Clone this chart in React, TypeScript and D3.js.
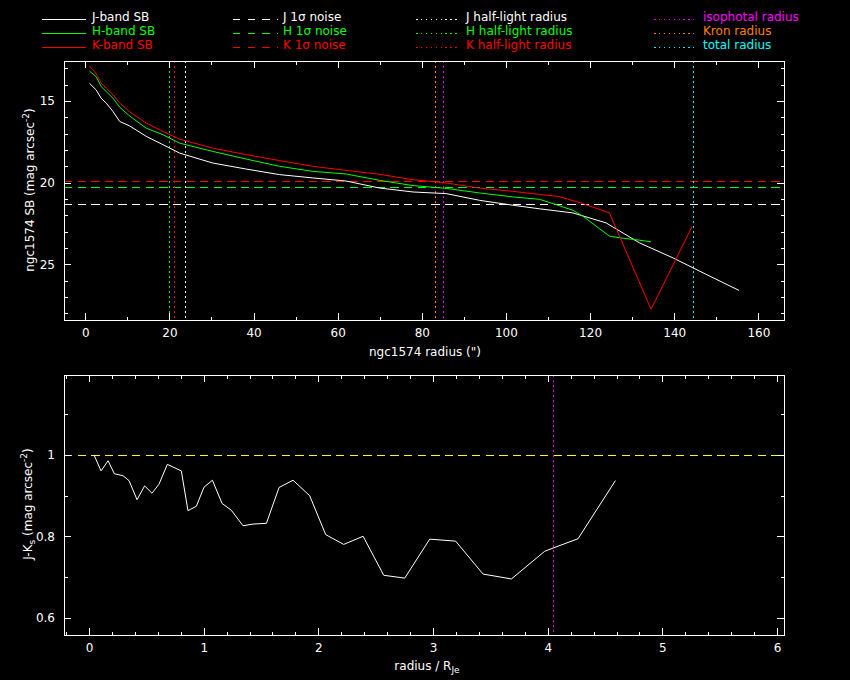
import React, { useEffect, useRef } from 'react';
import * as d3 from 'd3';

// surface brightness profiles, radius in arcsec, SB in mag arcsec^-2
const radiusJ = [1.0, 2.6, 3.8, 5.0, 6.6, 8.2, 10.5, 14.5, 18.5, 22.4, 30.3, 38.3, 46.2, 54.1, 62.0, 70.0, 77.9, 85.8, 93.7, 101.6, 108.0, 115.9, 123.8, 131.8, 139.7, 147.6, 155.4];
const sbJ = [13.92, 14.33, 14.84, 15.14, 15.65, 16.26, 16.52, 17.17, 17.68, 18.19, 18.8, 19.17, 19.51, 19.71, 19.9, 20.33, 20.57, 20.67, 21.08, 21.38, 21.6, 21.85, 22.46, 23.69, 24.6, 25.61, 26.59];

const radiusH = [1.0, 2.6, 3.8, 5.0, 6.6, 8.2, 10.5, 14.5, 18.5, 22.4, 30.3, 38.3, 46.2, 54.1, 62.0, 70.0, 77.9, 85.8, 93.7, 101.6, 108.0, 111.9, 115.9, 118.3, 124.6, 127.0, 131.8, 134.5];
const sbH = [13.17, 13.52, 14.13, 14.43, 14.84, 15.39, 15.91, 16.67, 17.07, 17.58, 18.09, 18.56, 19.0, 19.31, 19.47, 19.86, 20.18, 20.35, 20.63, 20.87, 21.02, 21.34, 21.69, 22.05, 23.27, 23.37, 23.52, 23.62];

const radiusK = [1.0, 2.2, 3.0, 3.8, 5.0, 6.6, 8.2, 10.5, 14.5, 18.5, 22.4, 30.3, 38.3, 46.2, 54.1, 62.0, 70.0, 77.9, 85.8, 93.7, 101.6, 108.0, 112.7, 118.3, 124.6, 134.5, 144.3];
const sbK = [12.87, 13.21, 13.52, 13.92, 14.23, 14.63, 15.14, 15.65, 16.36, 16.87, 17.34, 17.89, 18.29, 18.65, 19.0, 19.25, 19.49, 19.82, 20.02, 20.33, 20.53, 20.72, 20.85, 21.28, 21.85, 27.74, 22.66];

// J-Ks colour profile, radius in units of R_Je
const colorRadius = [0.044, 0.105, 0.166, 0.221, 0.297, 0.349, 0.419, 0.485, 0.549, 0.61, 0.683, 0.805, 0.863, 0.936, 1.003, 1.076, 1.16, 1.241, 1.343, 1.43, 1.547, 1.657, 1.779, 1.924, 2.064, 2.221, 2.39, 2.57, 2.753, 2.971, 3.197, 3.436, 3.683, 3.973, 4.046, 4.264, 4.59];
const colorJK = [1.0, 0.961, 0.986, 0.954, 0.949, 0.937, 0.89, 0.924, 0.906, 0.928, 0.977, 0.961, 0.863, 0.874, 0.921, 0.938, 0.881, 0.864, 0.826, 0.83, 0.832, 0.92, 0.938, 0.9, 0.804, 0.78, 0.8, 0.704, 0.697, 0.793, 0.788, 0.707, 0.695, 0.763, 0.771, 0.794, 0.937];

const bands = ['J', 'H', 'K'];
const bandColors = ['#ffffff', '#00ff00', '#ff0000'];
const noiseLevels = [21.29, 20.25, 19.91];
const halfLightRadii = [23.67, 19.97, 21.06];

const apertureLabels = ['isophotal radius', 'Kron radius', 'total radius'];
const apertureColors = ['#ff00ff', '#ff8000', '#00ffff'];
const apertureRadii = [85.0, 83.1, 144.4];

const isophotalScaled = 4.045;
const colorReference = 1.0;

const W = 850;
const H = 680;
const FONT = '"DejaVu Sans", sans-serif';
const FS = 12;
const DASH = '8.3,5.3';
const DOT = '2,3';

type Sel = d3.Selection<SVGGElement, unknown, null, undefined>;

// PGPLOT-like box: frame plus inward ticks on all four sides
function drawBox(
  g: Sel,
  x: d3.ScaleLinear<number, number>,
  y: d3.ScaleLinear<number, number>,
  xMajor: number[],
  xMinor: number[],
  yMajor: number[],
  yMinor: number[],
) {
  const [x0, x1] = x.range();
  const [y0, y1] = y.range(); // y0 bottom, y1 top
  const style = (a: Sel) => {
    a.select('.domain').remove();
    a.selectAll('line').attr('stroke', '#fff').attr('shape-rendering', 'crispEdges');
    a.selectAll('text').attr('fill', '#fff').style('font-family', FONT).style('font-size', `${FS}px`);
  };
  const put = (axis: d3.Axis<d3.NumberValue>, tx: number, ty: number) => {
    g.append('g').attr('transform', `translate(${tx},${ty})`).call(axis).call(style);
  };
  const none = () => '';
  put(d3.axisBottom(x).tickValues(xMajor).tickSize(-7).tickPadding(8).tickFormat(d => String(d)), 0, y0);
  put(d3.axisBottom(x).tickValues(xMinor).tickSize(-3.5).tickFormat(none), 0, y0);
  put(d3.axisTop(x).tickValues(xMajor).tickSize(-7).tickFormat(none), 0, y1);
  put(d3.axisTop(x).tickValues(xMinor).tickSize(-3.5).tickFormat(none), 0, y1);
  put(d3.axisLeft(y).tickValues(yMajor).tickSize(-7).tickPadding(9).tickFormat(d => String(d)), x0, 0);
  put(d3.axisLeft(y).tickValues(yMinor).tickSize(-3.5).tickFormat(none), x0, 0);
  put(d3.axisRight(y).tickValues(yMajor).tickSize(-7).tickFormat(none), x1, 0);
  put(d3.axisRight(y).tickValues(yMinor).tickSize(-3.5).tickFormat(none), x1, 0);

  g.append('rect')
    .attr('x', x0 + 0.5).attr('y', y1 + 0.5)
    .attr('width', x1 - x0).attr('height', y0 - y1)
    .attr('fill', 'none').attr('stroke', '#fff')
    .attr('shape-rendering', 'crispEdges');
}

export default function App() {
  const svgRef = useRef<SVGSVGElement>(null);

  useEffect(() => {
    document.body.style.margin = '0';
    document.body.style.background = '#000';
    if (!svgRef.current) return;

    const svg = d3.select(svgRef.current);
    svg.selectAll('*').remove();
    svg.append('rect').attr('width', W).attr('height', H).attr('fill', '#000');

    const root = svg.append('g') as unknown as Sel;
    const px = (v: number) => Math.round(v) + 0.5;

    // ---- legend ----
    const rowY = [20.7, 34.7, 48.7];
    const legendText = (x: number, y: number, color: string, label: string) =>
      root.append('text').attr('x', x).attr('y', y).attr('fill', color)
        .style('font-family', FONT).style('font-size', `${FS}px`).text(label);
    const legendLine = (xa: number, xb: number, y: number, color: string, dash: string | null) =>
      root.append('line').attr('x1', xa).attr('x2', xb).attr('y1', px(y)).attr('y2', px(y))
        .attr('stroke', color).attr('stroke-dasharray', dash)
        .attr('shape-rendering', 'crispEdges');

    bands.forEach((b, i) => {
      legendLine(42, 86, rowY[i] - 2, bandColors[i], null);
      legendText(92, rowY[i], bandColors[i], `${b}-band SB`);
      legendLine(233, 278, rowY[i] - 2, bandColors[i], '7.3,7.3');
      legendText(283, rowY[i], bandColors[i], `${b} 1σ noise`);
      legendLine(416, 457, rowY[i] - 2, bandColors[i], '1.5,3.4');
      legendText(466, rowY[i], bandColors[i], `${b} half-light radius`);
      legendLine(654, 694, rowY[i] - 2, apertureColors[i], '1.5,3.4');
      legendText(703, rowY[i], apertureColors[i], apertureLabels[i]);
    });

    // ---- top panel: SB profiles (magnitudes grow downwards) ----
    const x1 = d3.scaleLinear().domain([-5.05, 166.1]).range([64, 784]);
    const y1 = d3.scaleLinear().domain([28.4, 12.56]).range([320, 61]);
    const top = root.append('g') as unknown as Sel;

    const [tx0, tx1] = x1.range();
    const [ty0, ty1] = y1.range();

    noiseLevels.forEach((v, i) => {
      top.append('line').attr('x1', tx0).attr('x2', tx1)
        .attr('y1', px(y1(v))).attr('y2', px(y1(v)))
        .attr('stroke', bandColors[i]).attr('stroke-dasharray', DASH)
        .attr('shape-rendering', 'crispEdges');
    });
    const vline = (v: number, color: string) =>
      top.append('line').attr('y1', ty1).attr('y2', ty0)
        .attr('x1', px(x1(v))).attr('x2', px(x1(v)))
        .attr('stroke', color).attr('stroke-dasharray', DOT)
        .attr('shape-rendering', 'crispEdges');
    halfLightRadii.forEach((v, i) => vline(v, bandColors[i]));
    apertureRadii.forEach((v, i) => vline(v, apertureColors[i]));

    const profile = d3.line<[number, number]>().x(d => x1(d[0])).y(d => y1(d[1]));
    const profiles: [number[], number[]][] = [[radiusJ, sbJ], [radiusH, sbH], [radiusK, sbK]];
    profiles.forEach(([r, m], i) => {
      top.append('path')
        .datum(d3.zip(r, m) as [number, number][])
        .attr('d', profile)
        .attr('fill', 'none')
        .attr('stroke', bandColors[i])
        .attr('stroke-width', 1);
    });

    drawBox(
      top, x1, y1,
      d3.range(0, 161, 20),
      d3.range(10, 161, 20),
      [15, 20, 25],
      d3.range(13, 29).filter(v => v % 5 !== 0),
    );

    top.append('text')
      .attr('x', 425).attr('y', 356).attr('text-anchor', 'middle').attr('fill', '#fff')
      .style('font-family', FONT).style('font-size', `${FS}px`)
      .text('ngc1574 radius (")');

    const yl1 = top.append('text')
      .attr('transform', 'translate(34,190) rotate(-90)').attr('text-anchor', 'middle').attr('fill', '#fff')
      .style('font-family', FONT).style('font-size', `${FS}px`);
    yl1.append('tspan').text('ngc1574 SB (mag arcsec');
    yl1.append('tspan').attr('dy', -5).style('font-size', '9px').text('-2');
    yl1.append('tspan').attr('dy', 5).text(')');

    // ---- bottom panel: J-Ks colour ----
    const x2 = d3.scaleLinear().domain([-0.218, 6.06]).range([64, 784]);
    const y2 = d3.scaleLinear().domain([0.557, 1.197]).range([635, 375]);
    const bot = root.append('g') as unknown as Sel;
    const [bx0, bx1] = x2.range();
    const [by0, by1] = y2.range();

    bot.append('line').attr('x1', bx0).attr('x2', bx1)
      .attr('y1', px(y2(colorReference))).attr('y2', px(y2(colorReference)))
      .attr('stroke', '#ffff00').attr('stroke-dasharray', DASH)
      .attr('shape-rendering', 'crispEdges');
    bot.append('line').attr('y1', by1).attr('y2', by0)
      .attr('x1', px(x2(isophotalScaled))).attr('x2', px(x2(isophotalScaled)))
      .attr('stroke', '#ff00ff').attr('stroke-dasharray', DOT)
      .attr('shape-rendering', 'crispEdges');

    const colorLine = d3.line<[number, number]>().x(d => x2(d[0])).y(d => y2(d[1]));
    bot.append('path')
      .datum(d3.zip(colorRadius, colorJK) as [number, number][])
      .attr('d', colorLine)
      .attr('fill', 'none')
      .attr('stroke', '#fff')
      .attr('stroke-width', 1);

    drawBox(
      bot, x2, y2,
      d3.range(0, 7),
      d3.range(-1, 31).map(i => +(i * 0.2).toFixed(1)).filter(v => v % 1 !== 0),
      [0.6, 0.8, 1],
      [0.7, 0.9, 1.1],
    );

    const xl2 = bot.append('text')
      .attr('x', 427).attr('y', 670).attr('text-anchor', 'middle').attr('fill', '#fff')
      .style('font-family', FONT).style('font-size', `${FS}px`);
    xl2.append('tspan').text('radius / R');
    xl2.append('tspan').attr('dy', 3).style('font-size', '9px').text('Je');

    const yl2 = bot.append('text')
      .attr('transform', 'translate(32,504) rotate(-90)').attr('text-anchor', 'middle').attr('fill', '#fff')
      .style('font-family', FONT).style('font-size', `${FS}px`);
    yl2.append('tspan').text('J-K');
    yl2.append('tspan').attr('dy', 3).style('font-size', '9px').text('s');
    yl2.append('tspan').attr('dy', -3).text(' (mag arcsec');
    yl2.append('tspan').attr('dy', -5).style('font-size', '9px').text('-2');
    yl2.append('tspan').attr('dy', 5).text(')');
  }, []);

  return (
    <svg
      ref={svgRef}
      width={W}
      height={H}
      viewBox={`0 0 ${W} ${H}`}
      style={{ display: 'block', background: '#000' }}
    />
  );
}
